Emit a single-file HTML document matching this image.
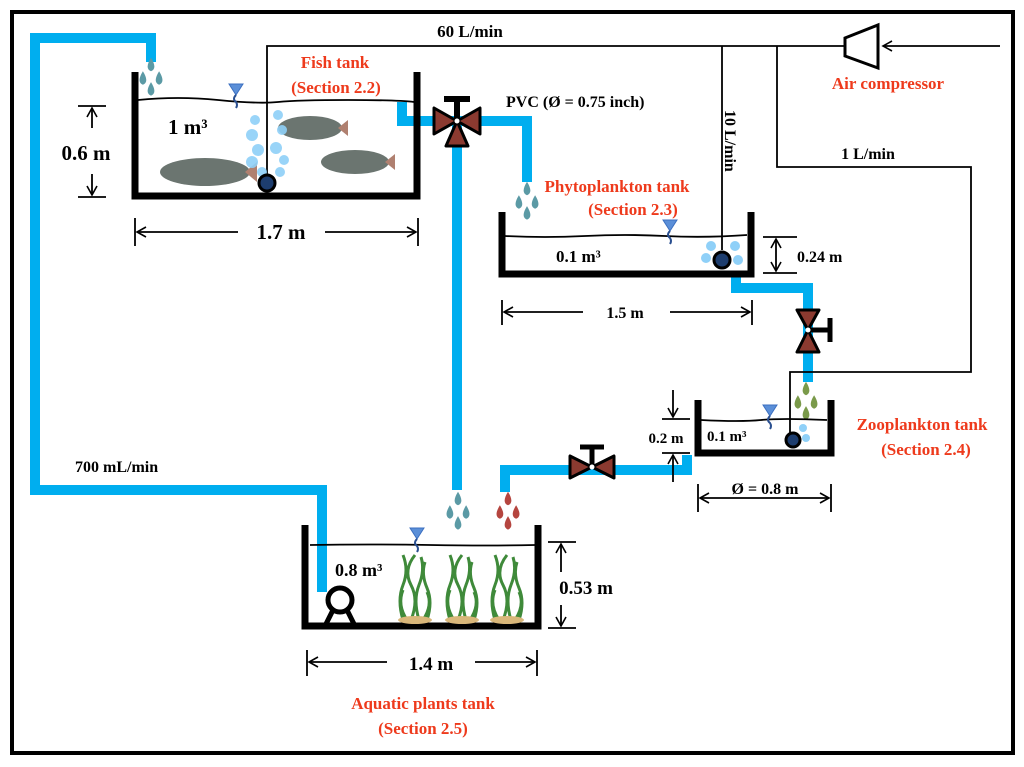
<!DOCTYPE html>
<html><head><meta charset="utf-8"><style>
html,body{margin:0;padding:0;background:#fff;}
svg{display:block;}
text{font-family:"Liberation Serif",serif;font-weight:bold;}
.r{fill:#ee3a1c;}
</style></head><body>
<svg width="1024" height="767" viewBox="0 0 1024 767" xmlns="http://www.w3.org/2000/svg">
<defs>
<g id="drops" transform="scale(1.35)"><path d="M0,-12 q-5,8 0,10 q5,-2 0,-10z M-6,-2 q-5,8 0,10 q5,-2 0,-10z M6,-2 q-5,8 0,10 q5,-2 0,-10z M0,6 q-5,8 0,10 q5,-2 0,-10z"/></g>
<g id="wl"><path d="M0,0 h14 l-7,11 z" fill="#5b8fd8" stroke="#3b6fc0" stroke-width="1"/><path d="M7,11 q-4,4 0,7 q2,3 0,6" stroke="#2a4f90" stroke-width="2" fill="none"/></g>
<marker id="ah" markerWidth="12" markerHeight="12" refX="10" refY="6" orient="auto" markerUnits="userSpaceOnUse"><path d="M1,1 L10,6 L1,11" fill="none" stroke="#000" stroke-width="1.6"/></marker>
<g id="plant" fill="none" stroke="#3f8a3a" stroke-width="3">
<path d="M-12,0 q-6,-20 0,-35 t0,-30 M-4,0 q8,-20 0,-35 t4,-30 M4,0 q-6,-20 0,-35 t2,-28 M12,0 q6,-18 0,-32 t-2,-26 M-8,0 q-10,-15 -4,-30 M8,0 q10,-15 4,-28"/>
</g>
</defs>
<rect x="12" y="12" width="1001" height="741" fill="#fff" stroke="#000" stroke-width="4"/>

<g fill="none" stroke="#00aeef" stroke-width="10">
<path d="M151,62 V38 H35 V490 H322 V592"/>
<path d="M402,102 V121 H527 V182"/>
<path d="M457,121 V490"/>
<path d="M736,277 V288 H808 V382"/>
<path d="M505,492 V470 H687 V455"/>
</g>

<g fill="none" stroke="#000" stroke-width="1.8">
<path d="M267,183 V46 H845"/>
<path d="M722,46 V250"/>
<path d="M777,46 V167 H971 V372 H790 V438"/>
<path d="M1000,46 H883" marker-end="url(#ah)"/>
</g>
<path d="M845,38 L878,25 L878,68 L845,56 Z" fill="#fff" stroke="#000" stroke-width="3"/>

<path d="M135,72 V196 H417 V72" fill="none" stroke="#000" stroke-width="7"/>
<path d="M138,100 q40,-4 80,0 t60,2 t70,-2 t66,2" fill="none" stroke="#000" stroke-width="1.8"/>
<g fill="#6b7570"><ellipse cx="205" cy="172" rx="45" ry="14"/><path d="M245,172 l12,-10 v20z" fill="#b08070"/>
<ellipse cx="310" cy="128" rx="32" ry="12"/><path d="M338,128 l10,-8 v16z" fill="#b08070"/>
<ellipse cx="355" cy="162" rx="34" ry="12"/><path d="M385,162 l10,-8 v16z" fill="#b08070"/></g>
<g fill="#8fd0f8" opacity="0.9"><circle cx="255" cy="120" r="5"/><circle cx="252" cy="135" r="6"/><circle cx="258" cy="150" r="6"/><circle cx="252" cy="162" r="6"/><circle cx="262" cy="172" r="5"/><circle cx="278" cy="115" r="5"/><circle cx="282" cy="130" r="5"/><circle cx="276" cy="148" r="6"/><circle cx="284" cy="160" r="5"/><circle cx="280" cy="172" r="5"/></g>
<circle cx="267" cy="183" r="8" fill="#1d3d6e" stroke="#000" stroke-width="3"/>
<use href="#wl" x="229" y="84"/>
<g fill="#5b9aa5"><use href="#drops" x="151" y="74"/></g>
<text x="168" y="134" font-size="21">1 m³</text>
<text x="335" y="68" font-size="17" text-anchor="middle" class="r">Fish tank</text>
<text x="336" y="93" font-size="17" text-anchor="middle" class="r">(Section 2.2)</text>
<text x="470" y="37" font-size="17" text-anchor="middle">60 L/min</text>
<g stroke="#000" stroke-width="1.8"><path d="M78,106 H106 M78,197 H106"/><path d="M92,128 V108" marker-end="url(#ah)"/><path d="M92,174 V195" marker-end="url(#ah)"/>
<path d="M135,218 V246 M418,218 V246"/><path d="M238,232 H137" marker-end="url(#ah)"/><path d="M325,232 H416" marker-end="url(#ah)"/></g>
<text x="86" y="160" font-size="21" text-anchor="middle">0.6 m</text>
<text x="281" y="239" font-size="21" text-anchor="middle">1.7 m</text>

<g fill="#8b3a30" stroke="#000" stroke-width="3" stroke-linejoin="round">
<path d="M457,121 L434,108 L434,134 Z"/><path d="M457,121 L480,108 L480,134 Z"/><path d="M457,121 L446,146 L468,146 Z"/></g>
<path d="M457,121 V100 M444,99 H470" stroke="#000" stroke-width="6"/>
<circle cx="457" cy="121" r="2.5" fill="#fff"/>
<text x="506" y="107" font-size="16">PVC (Ø = 0.75 inch)</text>

<path d="M502,212 V274 H751 V212" fill="none" stroke="#000" stroke-width="7"/>
<path d="M505,236 q40,2 80,0 t80,0 t82,-1" fill="none" stroke="#000" stroke-width="1.8"/>
<g fill="#8fd0f8"><circle cx="711" cy="246" r="5"/><circle cx="706" cy="258" r="5"/><circle cx="735" cy="246" r="5"/><circle cx="738" cy="260" r="5"/></g>
<circle cx="722" cy="260" r="8" fill="#1d3d6e" stroke="#000" stroke-width="3"/>
<use href="#wl" x="663" y="220"/>
<g fill="#5b9aa5"><use href="#drops" x="527" y="198"/></g>
<text x="556" y="262" font-size="17">0.1 m³</text>
<text x="617" y="192" font-size="17" text-anchor="middle" class="r">Phytoplankton tank</text>
<text x="633" y="215" font-size="17" text-anchor="middle" class="r">(Section 2.3)</text>
<text x="0" y="0" font-size="16" transform="translate(725,110) rotate(90)">10 L/min</text>
<g stroke="#000" stroke-width="1.8"><path d="M763,237 H797 M763,273 H797"/><path d="M776,255 V239" marker-end="url(#ah)"/><path d="M776,255 V271" marker-end="url(#ah)"/>
<path d="M502,300 V325 M752,300 V325"/><path d="M583,312 H504" marker-end="url(#ah)"/><path d="M670,312 H750" marker-end="url(#ah)"/></g>
<text x="797" y="262" font-size="16">0.24 m</text>
<text x="625" y="318" font-size="16" text-anchor="middle">1.5 m</text>
<text x="888" y="89" font-size="17" text-anchor="middle" class="r">Air compressor</text>
<text x="868" y="159" font-size="16" text-anchor="middle">1 L/min</text>

<g fill="#8b3a30" stroke="#000" stroke-width="3" stroke-linejoin="round">
<path d="M808,330 L797,310 L819,310 Z"/><path d="M808,330 L797,352 L819,352 Z"/></g>
<path d="M808,330 H828 M830,318 V342" stroke="#000" stroke-width="5"/>
<circle cx="808" cy="330" r="2.5" fill="#fff"/>
<g fill="#7a9a4a"><use href="#drops" x="806" y="398"/></g>

<path d="M698,400 V453 H831 V400" fill="none" stroke="#000" stroke-width="7"/>
<path d="M701,420 q40,2 60,0 t66,0" fill="none" stroke="#000" stroke-width="1.8"/>
<g fill="#8fd0f8"><circle cx="803" cy="428" r="4"/><circle cx="806" cy="438" r="4"/></g>
<circle cx="793" cy="440" r="7" fill="#1d3d6e" stroke="#000" stroke-width="3"/>
<use href="#wl" x="763" y="405"/>
<text x="707" y="441" font-size="15">0.1 m³</text>
<text x="922" y="430" font-size="17" text-anchor="middle" class="r">Zooplankton tank</text>
<text x="926" y="455" font-size="17" text-anchor="middle" class="r">(Section 2.4)</text>
<g stroke="#000" stroke-width="1.8"><path d="M662,419 H690 M662,453 H690"/><path d="M673,390 V417" marker-end="url(#ah)"/><path d="M673,482 V455" marker-end="url(#ah)"/>
<path d="M698,484 V512 M831,484 V512"/><path d="M765,498 H700" marker-end="url(#ah)"/><path d="M765,498 H829" marker-end="url(#ah)"/></g>
<text x="666" y="443" font-size="15" text-anchor="middle">0.2 m</text>
<text x="765" y="494" font-size="16" text-anchor="middle">Ø = 0.8 m</text>

<g fill="#8b3a30" stroke="#000" stroke-width="3" stroke-linejoin="round">
<path d="M592,467 L570,456 L570,478 Z"/><path d="M592,467 L614,456 L614,478 Z"/></g>
<path d="M592,467 V448 M580,447 H604" stroke="#000" stroke-width="5"/>
<circle cx="592" cy="467" r="2.5" fill="#fff"/>

<g fill="#5b9aa5"><use href="#drops" x="458" y="508"/></g>
<g fill="#b5453f"><use href="#drops" x="508" y="508"/></g>

<path d="M305,525 V626 H538 V525" fill="none" stroke="#000" stroke-width="7"/>
<path d="M310,545 q60,-1 120,0 t105,0" fill="none" stroke="#000" stroke-width="1.8"/>
<use href="#plant" x="415" y="620"/>
<use href="#plant" x="462" y="620"/>
<use href="#plant" x="507" y="620"/>
<g fill="#d9b77a"><ellipse cx="415" cy="620" rx="17" ry="4"/><ellipse cx="462" cy="620" rx="17" ry="4"/><ellipse cx="507" cy="620" rx="17" ry="4"/></g>
<use href="#wl" x="410" y="528"/>
<circle cx="340" cy="600" r="12" fill="#fff" stroke="#000" stroke-width="5"/>
<path d="M326,624 L333,610 M354,624 L347,610" stroke="#000" stroke-width="5"/>
<text x="335" y="576" font-size="18">0.8 m³</text>
<g stroke="#000" stroke-width="1.8"><path d="M548,542 H576 M548,628 H576"/><path d="M561,572 V544" marker-end="url(#ah)"/><path d="M561,605 V626" marker-end="url(#ah)"/>
<path d="M307,650 V676 M537,650 V676"/><path d="M387,662 H309" marker-end="url(#ah)"/><path d="M475,662 H535" marker-end="url(#ah)"/></g>
<text x="586" y="594" font-size="19" text-anchor="middle">0.53 m</text>
<text x="431" y="670" font-size="19" text-anchor="middle">1.4 m</text>
<text x="423" y="709" font-size="17" text-anchor="middle" class="r">Aquatic plants tank</text>
<text x="423" y="734" font-size="17" text-anchor="middle" class="r">(Section 2.5)</text>
<text x="75" y="472" font-size="16">700 mL/min</text>
</svg>
</body></html>
